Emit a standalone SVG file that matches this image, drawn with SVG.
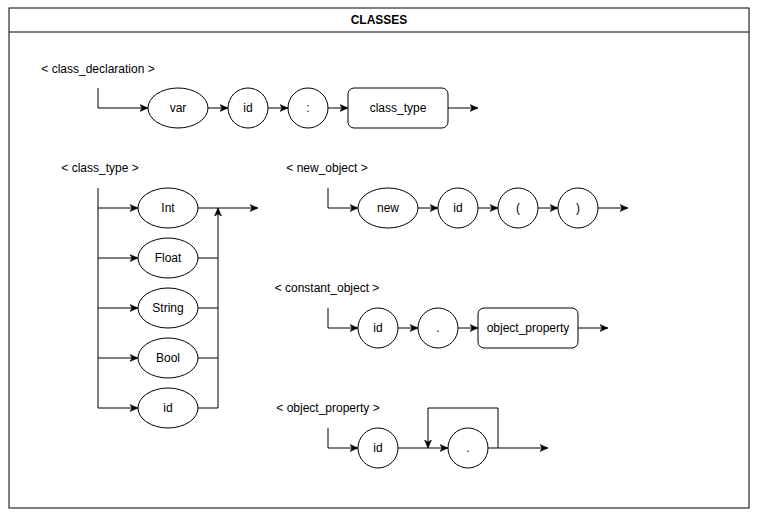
<svg xmlns="http://www.w3.org/2000/svg" width="757" height="517" viewBox="0 0 757 517">
<style>
  .frame{fill:#fff;stroke:#000;stroke-width:1}
  .node{fill:#fff;stroke:#000;stroke-width:1}
  .lbl{font-family:"Liberation Sans",Arial,Helvetica,sans-serif;font-size:12px;fill:#000;text-anchor:middle}
  .title{font-family:"Liberation Sans",Arial,Helvetica,sans-serif;font-size:12px;font-weight:bold;fill:#000;text-anchor:middle}
  .edge{fill:none;stroke:#000;stroke-width:1}
  .arr{marker-end:url(#ah)}
</style>
<defs>
  <marker id="ah" viewBox="0 0 8 8" refX="8" refY="4" markerWidth="8" markerHeight="8" markerUnits="userSpaceOnUse" orient="auto">
    <path d="M0,0.5 L8,4 L0,7.5 L2,4 Z" fill="#000" stroke="#000" stroke-width="0.5"/>
  </marker>
</defs>
<rect width="757" height="517" fill="#fff"/>
<g id="frame">
  <rect class="frame" x="9" y="8" width="740" height="500"/>
  <line x1="9" y1="32" x2="749" y2="32" stroke="#000" stroke-width="1"/>
  <text class="title" x="379" y="24">CLASSES</text>
</g>
<g id="labels">
  <text class="lbl" x="98" y="73">&lt; class_declaration &gt;</text>
  <text class="lbl" x="100" y="172">&lt; class_type &gt;</text>
  <text class="lbl" x="327" y="172">&lt; new_object &gt;</text>
  <text class="lbl" x="327" y="292">&lt; constant_object &gt;</text>
  <text class="lbl" x="328" y="412">&lt; object_property &gt;</text>
</g>
<g id="connectors">
  <!-- class_declaration -->
  <path class="edge arr" d="M98,88 V108 H148"/>
  <path class="edge arr" d="M208,108 H228"/>
  <path class="edge arr" d="M268,108 H288"/>
  <path class="edge arr" d="M328,108 H348"/>
  <path class="edge arr" d="M448,108 H478"/>
  <!-- class_type -->
  <path class="edge" d="M98,188 V408"/>
  <path class="edge arr" d="M98,208 H138"/>
  <path class="edge arr" d="M98,258 H138"/>
  <path class="edge arr" d="M98,308 H138"/>
  <path class="edge arr" d="M98,358 H138"/>
  <path class="edge arr" d="M98,408 H138"/>
  <path class="edge arr" d="M198,208 H258"/>
  <path class="edge" d="M198,258 H218"/>
  <path class="edge" d="M198,308 H218"/>
  <path class="edge" d="M198,358 H218"/>
  <path class="edge" d="M198,408 H218"/>
  <path class="edge arr" d="M218,408 V208"/>
  <!-- new_object -->
  <path class="edge arr" d="M328,188 V208 H358"/>
  <path class="edge arr" d="M418,208 H438"/>
  <path class="edge arr" d="M478,208 H498"/>
  <path class="edge arr" d="M538,208 H558"/>
  <path class="edge arr" d="M598,208 H628"/>
  <!-- constant_object -->
  <path class="edge arr" d="M328,308 V328 H358"/>
  <path class="edge arr" d="M398,328 H418"/>
  <path class="edge arr" d="M458,328 H478"/>
  <path class="edge arr" d="M578,328 H608"/>
  <!-- object_property -->
  <path class="edge arr" d="M328,428 V448 H358"/>
  <path class="edge arr" d="M398,448 H448"/>
  <path class="edge arr" d="M488,448 H548"/>
  <path class="edge arr" d="M498,448 V408 H428 V448"/>
</g>
<g id="decl_var"><ellipse class="node" cx="178" cy="108" rx="30" ry="20"/><text class="lbl" x="178" y="112">var</text></g>
<g id="decl_id"><circle class="node" cx="248" cy="108" r="20"/><text class="lbl" x="248" y="112">id</text></g>
<g id="decl_colon"><circle class="node" cx="308" cy="108" r="20"/><text class="lbl" x="308" y="112">:</text></g>
<g id="decl_class_type"><rect class="node" x="348" y="88" width="100" height="40" rx="6"/><text class="lbl" x="398" y="112">class_type</text></g>

<g id="ct_int"><ellipse class="node" cx="168" cy="208" rx="30" ry="20"/><text class="lbl" x="168" y="212">Int</text></g>
<g id="ct_float"><ellipse class="node" cx="168" cy="258" rx="30" ry="20"/><text class="lbl" x="168" y="262">Float</text></g>
<g id="ct_string"><ellipse class="node" cx="168" cy="308" rx="30" ry="20"/><text class="lbl" x="168" y="312">String</text></g>
<g id="ct_bool"><ellipse class="node" cx="168" cy="358" rx="30" ry="20"/><text class="lbl" x="168" y="362">Bool</text></g>
<g id="ct_id"><ellipse class="node" cx="168" cy="408" rx="30" ry="20"/><text class="lbl" x="168" y="412">id</text></g>

<g id="no_new"><ellipse class="node" cx="388" cy="208" rx="30" ry="20"/><text class="lbl" x="388" y="212">new</text></g>
<g id="no_id"><circle class="node" cx="458" cy="208" r="20"/><text class="lbl" x="458" y="212">id</text></g>
<g id="no_lparen"><circle class="node" cx="518" cy="208" r="20"/><text class="lbl" x="518" y="212">(</text></g>
<g id="no_rparen"><circle class="node" cx="578" cy="208" r="20"/><text class="lbl" x="578" y="212">)</text></g>

<g id="co_id"><circle class="node" cx="378" cy="328" r="20"/><text class="lbl" x="378" y="332">id</text></g>
<g id="co_dot"><circle class="node" cx="438" cy="328" r="20"/><text class="lbl" x="438" y="332">.</text></g>
<g id="co_object_property"><rect class="node" x="478" y="308" width="100" height="40" rx="6"/><text class="lbl" x="528" y="332">object_property</text></g>

<g id="op_id"><circle class="node" cx="378" cy="448" r="20"/><text class="lbl" x="378" y="452">id</text></g>
<g id="op_dot"><circle class="node" cx="468" cy="448" r="20"/><text class="lbl" x="468" y="452">.</text></g>
</svg>
